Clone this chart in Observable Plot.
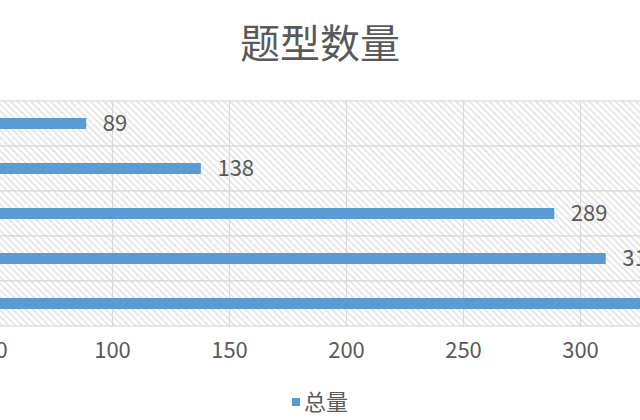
<!DOCTYPE html>
<html>
<head>
<meta charset="utf-8">
<script src="https://cdn.jsdelivr.net/npm/d3@7"></script>
<script src="https://cdn.jsdelivr.net/npm/@observablehq/plot@0.6"></script>
<style>
  html, body { margin: 0; padding: 0; background: #fff; overflow: hidden; width: 640px; height: 420px; }
  body { font-family: "Noto Sans CJK SC", "Noto Sans", sans-serif; color: #595959; }
  #title { height: 82px; line-height: 82px; text-align: center; font-size: 40px; color: #595959; white-space: nowrap; }
  #chart { width: 640px; height: 290px; overflow: hidden; }
  #chart svg { display: block; margin-left: -30px; max-width: none !important; width: 700px !important; height: 290px !important; }
  #legend { height: 56px; line-height: 56px; text-align: center; font-size: 22px; color: #595959; white-space: nowrap; }
  #legend .sw { display: inline-block; width: 8px; height: 8px; background: #5b9bd5; margin-right: 4px; vertical-align: middle; position: relative; top: -2px; }
</style>
</head>
<body>
<div id="title">题型数量</div>
<div id="chart"></div>
<div id="legend"><span class="sw"></span>总量</div>
<script>
// Data (category names are cropped off in the reference)
const categories = ["题型1", "题型2", "题型3", "题型4", "题型5"];
const values = [89, 138, 289, 311, 345];
const xTicks = [50, 100, 150, 200, 250, 300];
const seriesName = "总量";

const data = categories.map((c, i) => ({cat: c, value: values[i]}));

const svg = Plot.plot({
  width: 700,
  height: 290,
  marginLeft: 0,
  marginRight: 0,
  marginTop: 18,
  marginBottom: 45,
  style: {fontFamily: "'Noto Sans CJK SC', 'Noto Sans', sans-serif", color: "#595959", background: "transparent", maxWidth: "none"},
  x: {domain: [39.32, 338.46]},
  y: {domain: categories, padding: 0, axis: null},
  marks: [
    Plot.cell(categories, {y: d => d, fill: "url(#hatch)", stroke: "#d9d9d9", strokeWidth: 1.2}),
    Plot.gridX({ticks: xTicks, stroke: "#d9d9d9", strokeOpacity: 1, strokeWidth: 1.2}),
    Plot.barX(data, {y: "cat", x: "value", fill: "#5b9bd5", insetTop: 17, insetBottom: 17, clip: true}),
    Plot.text(data, {y: "cat", x: "value", text: d => String(d.value), dx: 16, textAnchor: "start", fontSize: 22, fill: "#595959"}),
    Plot.axisX({ticks: xTicks, tickSize: 0, tickPadding: 15, fontSize: 22, fill: "#595959", label: null})
  ]
});

const defs = d3.select(svg).insert("defs", ":first-child");
const pat = defs.append("pattern")
  .attr("id", "hatch")
  .attr("patternUnits", "userSpaceOnUse")
  .attr("width", 4.7)
  .attr("height", 10)
  .attr("patternTransform", "rotate(-45)");
pat.append("rect").attr("width", 4.7).attr("height", 10).attr("fill", "#ffffff");
pat.append("line").attr("x1", 1).attr("y1", 0).attr("x2", 1).attr("y2", 10)
  .attr("stroke", "#dedede").attr("stroke-width", 1.4);

document.getElementById("chart").appendChild(svg);
</script>
</body>
</html>
